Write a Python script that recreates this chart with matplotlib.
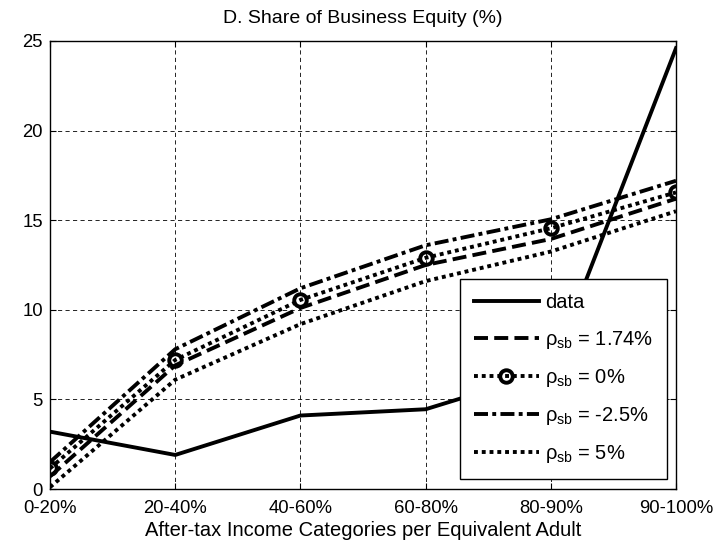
import matplotlib
matplotlib.use("Agg")
import matplotlib.pyplot as plt

# income categories and shares of business equity (%)
categories = ['0-20%', '20-40%', '40-60%', '60-80%', '80-90%', '90-100%']
data_share = [3.2, 1.9, 4.1, 4.45, 6.6, 24.6]
rho_174 = [0.7, 6.9, 10.1, 12.5, 13.95, 16.2]
rho_0 = [1.15, 7.2, 10.55, 12.9, 14.55, 16.55]
rho_m25 = [1.5, 7.8, 11.2, 13.6, 15.05, 17.2]
rho_5 = [0.1, 6.1, 9.2, 11.6, 13.25, 15.5]

plt.rcParams['font.family'] = ['Liberation Sans', 'DejaVu Sans']
plt.rcParams['mathtext.fontset'] = 'custom'
plt.rcParams['mathtext.rm'] = 'Liberation Sans'
plt.rcParams['mathtext.it'] = 'Liberation Sans'

fig = plt.figure(figsize=(7.25, 5.47), dpi=100)
ax = fig.add_axes([50/725, 58/547, 626/725, 448/547])

x = list(range(1, len(categories) + 1))
lw = 2.8

ax.plot(x, data_share, '-', color='k', lw=lw, label='data')
ax.plot(x, rho_174, color='k', lw=lw, dashes=(3.6, 1.6), label=r'$\rho_{\mathregular{sb}}$ = 1.74%')
ax.plot(x, rho_0, color='k', lw=lw, dashes=(1, 1), marker='o', markersize=9,
        markerfacecolor='none', markeredgewidth=2.8, label=r'$\rho_{\mathregular{sb}}$ = 0%')
ax.plot(x, rho_m25, color='k', lw=lw, dashes=(3.6, 1.1, 1, 1.1), label=r'$\rho_{\mathregular{sb}}$ = -2.5%')
ax.plot(x, rho_5, color='k', lw=lw, dashes=(1, 1), label=r'$\rho_{\mathregular{sb}}$ = 5%')

ax.set_xlim(1, 6)
ax.set_ylim(0, 25)
ax.set_xticks(x)
ax.set_xticklabels(categories)
ax.set_yticks([0, 5, 10, 15, 20, 25])
ax.tick_params(direction='in', length=4, labelsize=13.3, top=True, right=True)
ax.tick_params(axis='x', pad=8)
ax.tick_params(axis='y', pad=5)
ax.grid(True, color='k', linestyle=(0, (5, 4)), linewidth=0.6)
for s in ax.spines.values():
    s.set_linewidth(1.0)

ax.set_title('D. Share of Business Equity (%)', fontsize=14, pad=13)
ax.set_xlabel('After-tax Income Categories per Equivalent Adult', fontsize=14.5, labelpad=3)

leg = ax.legend(loc='lower right', bbox_to_anchor=(667/725, 68/547), bbox_transform=fig.transFigure,
                fontsize=14.5, handlelength=3.2, handletextpad=0.3, labelspacing=0.8,
                borderpad=0.7, borderaxespad=0, fancybox=False, framealpha=1, edgecolor='k')
leg.get_frame().set_linewidth(1.0)

fig.savefig('out.png', dpi=100)
